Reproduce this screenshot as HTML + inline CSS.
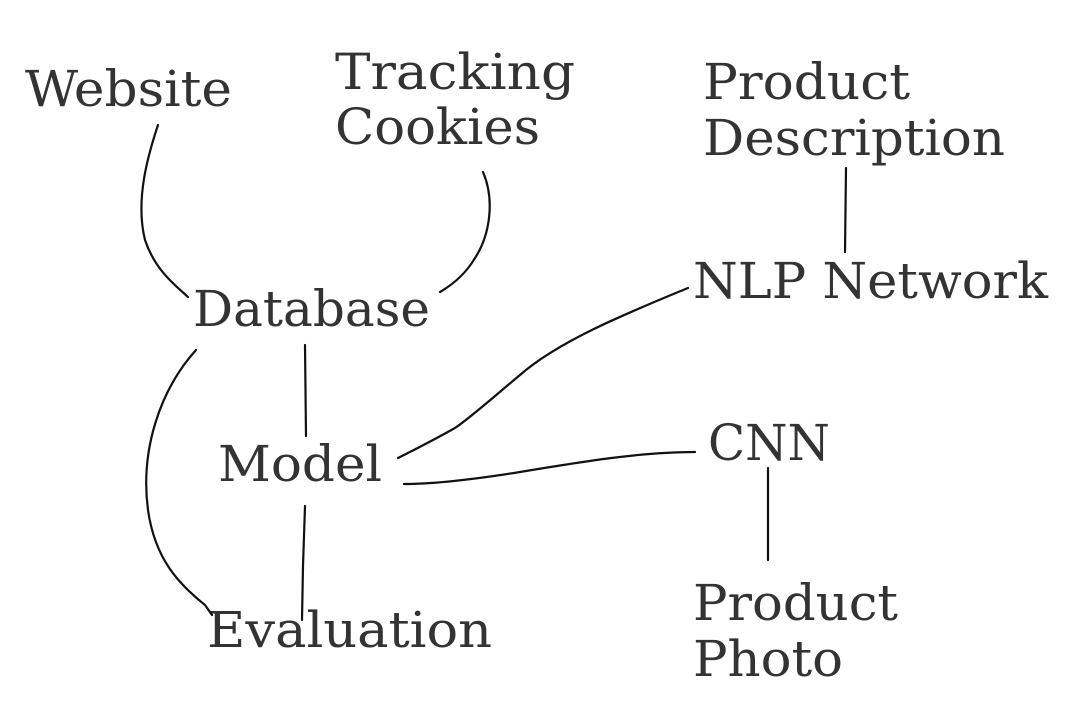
<!DOCTYPE html>
<html><head><meta charset="utf-8"><style>
html,body{margin:0;padding:0;background:#fff;}
svg{display:block;}
text{font-family:"DejaVu Serif","Liberation Serif",serif;font-size:50px;fill:#333;}
path{fill:none;stroke:#111;stroke-width:2.2;stroke-linecap:round;}
</style></head><body>
<svg width="1070" height="710" viewBox="0 0 1070 710">
<text x="25" y="106" textLength="207" lengthAdjust="spacingAndGlyphs">Website</text>
<text x="335" y="89" textLength="240" lengthAdjust="spacingAndGlyphs">Tracking</text>
<text x="335" y="144" textLength="205" lengthAdjust="spacingAndGlyphs">Cookies</text>
<text x="703" y="99" textLength="207" lengthAdjust="spacingAndGlyphs">Product</text>
<text x="703" y="155" textLength="302" lengthAdjust="spacingAndGlyphs">Description</text>
<text x="693" y="298" textLength="355" lengthAdjust="spacingAndGlyphs">NLP Network</text>
<text x="193" y="326" textLength="237" lengthAdjust="spacingAndGlyphs">Database</text>
<text x="218" y="481" textLength="164" lengthAdjust="spacingAndGlyphs">Model</text>
<text x="708" y="460" textLength="122" lengthAdjust="spacingAndGlyphs">CNN</text>
<text x="207" y="647" textLength="285" lengthAdjust="spacingAndGlyphs">Evaluation</text>
<text x="693" y="620" textLength="205" lengthAdjust="spacingAndGlyphs">Product</text>
<text x="693" y="676" textLength="150" lengthAdjust="spacingAndGlyphs">Photo</text>

<path d="M158,125 C148,155 135,200 145,240 C155,270 175,285 188,297"/>
<path d="M483,172 C495,200 490,235 475,258 C465,275 452,285 440,292"/>
<path d="M846,168 L845,252"/>
<path d="M688,288 C630,312 560,340 520,375 C490,400 470,418 455,428 C430,442 410,452 398,458"/>
<path d="M695,452 C640,452 580,462 520,472 C470,480 430,484 404,484"/>
<path d="M768,468 L768,560"/>
<path d="M305,345 L306,436"/>
<path d="M305,506 L303,566 L302,620"/>
<path d="M196,350 C160,390 140,450 148,510 C155,560 180,585 205,605 L212,615"/>
</svg>
</body></html>
